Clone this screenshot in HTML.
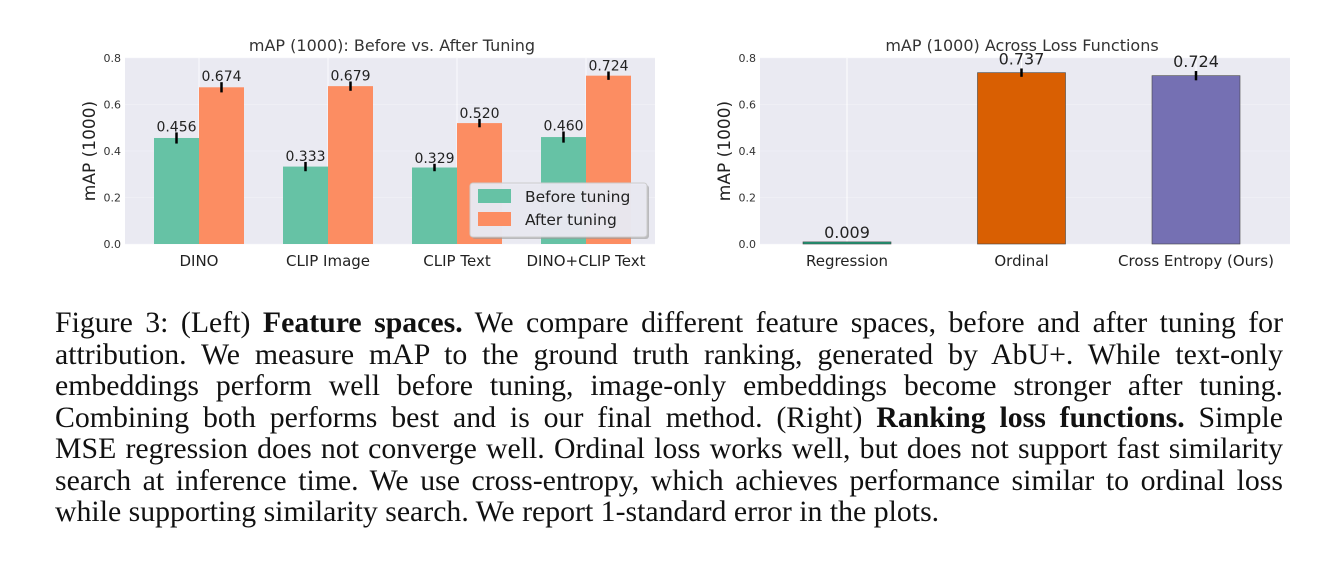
<!DOCTYPE html>
<html><head><meta charset="utf-8"><style>
body{margin:0;width:1339px;height:567px;background:#fff;overflow:hidden;position:relative}
svg{position:absolute;left:0;top:0}
.cap{position:absolute;left:55px;width:1228px;font-family:"Liberation Serif",serif;font-size:29.8px;color:#111;white-space:nowrap}
.ln{display:block;text-align:justify;text-align-last:justify;height:31.5px;line-height:31.5px;white-space:normal;overflow:visible}
.ln.last{text-align-last:left}
</style></head><body>
<svg id="chart" width="1339" height="300" font-family="DejaVu Sans, Liberation Sans, sans-serif"></svg>
<div class="cap" style="top:307px">
<span class="ln">Figure 3: (Left) <b>Feature spaces.</b> We compare different feature spaces, before and after tuning for</span>
<span class="ln">attribution. We measure mAP to the ground truth ranking, generated by AbU+. While text-only</span>
<span class="ln">embeddings perform well before tuning, image-only embeddings become stronger after tuning.</span>
<span class="ln">Combining both performs best and is our final method. (Right) <b>Ranking loss functions.</b> Simple</span>
<span class="ln">MSE regression does not converge well. Ordinal loss works well, but does not support fast similarity</span>
<span class="ln">search at inference time. We use cross-entropy, which achieves performance similar to ordinal loss</span>
<span class="ln last">while supporting similarity search. We report 1-standard error in the plots.</span>
</div>
<script>
const leftCats=["DINO","CLIP Image","CLIP Text","DINO+CLIP Text"];
const beforeVals=[0.456,0.333,0.329,0.460];
const afterVals=[0.674,0.679,0.520,0.724];
const beforeErr=[0.024,0.020,0.016,0.024];
const afterErr=[0.022,0.020,0.018,0.018];
const rightCats=["Regression","Ordinal","Cross Entropy (Ours)"];
const rightVals=[0.009,0.737,0.724];
const rightErr=[0.0,0.018,0.020];
const rightColors=["#1b9e77","#d95f02","#7570b3"];
const yTicks=[0.0,0.2,0.4,0.6,0.8];

const NS="http://www.w3.org/2000/svg";
const svg=document.getElementById('chart');
function mk(t,a,p){const e=document.createElementNS(NS,t);for(const k in a)e.setAttribute(k,a[k]);(p||svg).appendChild(e);return e;}
const y0=244,y1=58;
const yS=v=>y0-(v/0.8)*(y0-y1);

function axes(x0,x1,title,cx){
  const g=mk('g',{});
  
  
  mk('rect',{x:x0,y:y1,width:x1-x0,height:y0-y1,fill:'#eaeaf2'},g);
  yTicks.forEach(t=>{
    mk('line',{x1:x0,x2:x1,y1:yS(t),y2:yS(t),stroke:'#f4f4f8','stroke-width':0.6},g);
    const tx=mk('text',{x:x0-4,y:yS(t)+4,'font-size':11,fill:'#333','text-anchor':'end'},g);
    tx.textContent=t.toFixed(1);
    
    
  });
  const tt=mk('text',{x:cx,y:51,'font-size':16,fill:'#333','text-anchor':'middle'});
  tt.textContent=title;
  
  
  const yl=mk('text',{x:0,y:0,'font-size':17,fill:'#222','text-anchor':'middle',transform:`translate(${x0-30},${(y0+y1)/2}) rotate(-90)`});
  yl.textContent="mAP (1000)";
  
  
}
function label(x,y,txt,fs){const t=mk('text',{x:x,y:y,'font-size':fs||14,fill:'#222','text-anchor':'middle'});t.textContent=txt;}
function err(x,v,e){if(e<=0)return;const l=mk('line',{x1:x,x2:x,y1:yS(v-e),y2:yS(v+e),stroke:'#000','stroke-width':2.5});}

// left
axes(125,655,"mAP (1000): Before vs. After Tuning",392);
const lStep=129,lFirst=199,bw=45;
leftCats.forEach((c,i)=>{
  const cx=lFirst+i*lStep;
  mk('line',{x1:cx,x2:cx,y1:y1,y2:y0,stroke:'#fff','stroke-width':0.8});
  const b=mk('rect',{x:cx-bw,y:yS(beforeVals[i]),width:bw,height:y0-yS(beforeVals[i]),fill:'#66c2a5'});
  
  
  const a=mk('rect',{x:cx,y:yS(afterVals[i]),width:bw,height:y0-yS(afterVals[i]),fill:'#fc8d62'});
  
  
  err(cx-bw/2,beforeVals[i],beforeErr[i]);
  err(cx+bw/2,afterVals[i],afterErr[i]);
  label(cx-bw/2,yS(beforeVals[i]+beforeErr[i])-1,beforeVals[i].toFixed(3));
  label(cx+bw/2,yS(afterVals[i]+afterErr[i])-1,afterVals[i].toFixed(3));
  const t=mk('text',{x:cx,y:266,'font-size':15,fill:'#222','text-anchor':'middle'});
  t.textContent=c;
  
  
});
const lg=mk('g',{});


mk('rect',{x:472,y:185,width:177,height:54,rx:3,fill:'#999',opacity:0.6},lg);
mk('rect',{x:470,y:183,width:177,height:54,rx:3,fill:'#eaeaf2',stroke:'#ccc','fill-opacity':0.95},lg);
[["Before tuning","#66c2a5",189],["After tuning","#fc8d62",212]].forEach(([n,col,yy])=>{
  const e=mk('g',{},lg);
  
  
  mk('rect',{x:478,y:yy,width:33,height:14,fill:col},e);
  const t=mk('text',{x:525,y:yy+13,'font-size':15.5,fill:'#222'},e);t.textContent=n;
});

// right
axes(760,1290,"mAP (1000) Across Loss Functions",1022);
const rFirst=847,rStep=174.5,rbw=88;
rightCats.forEach((c,i)=>{
  const cx=rFirst+i*rStep;
  mk('line',{x1:cx,x2:cx,y1:y1,y2:y0,stroke:'#fff','stroke-width':1});
  const b=mk('rect',{x:cx-rbw/2,y:yS(rightVals[i]),width:rbw,height:Math.max(1,y0-yS(rightVals[i])),fill:rightColors[i],stroke:'#444','stroke-width':0.6});
  
  
  err(cx,rightVals[i],rightErr[i]);
  label(cx,yS(rightVals[i]+rightErr[i])-4,rightVals[i].toFixed(3),16);
  const t=mk('text',{x:cx,y:266,'font-size':15,fill:'#222','text-anchor':'middle'});
  t.textContent=c;
  
  
});
</script>
</body></html>
